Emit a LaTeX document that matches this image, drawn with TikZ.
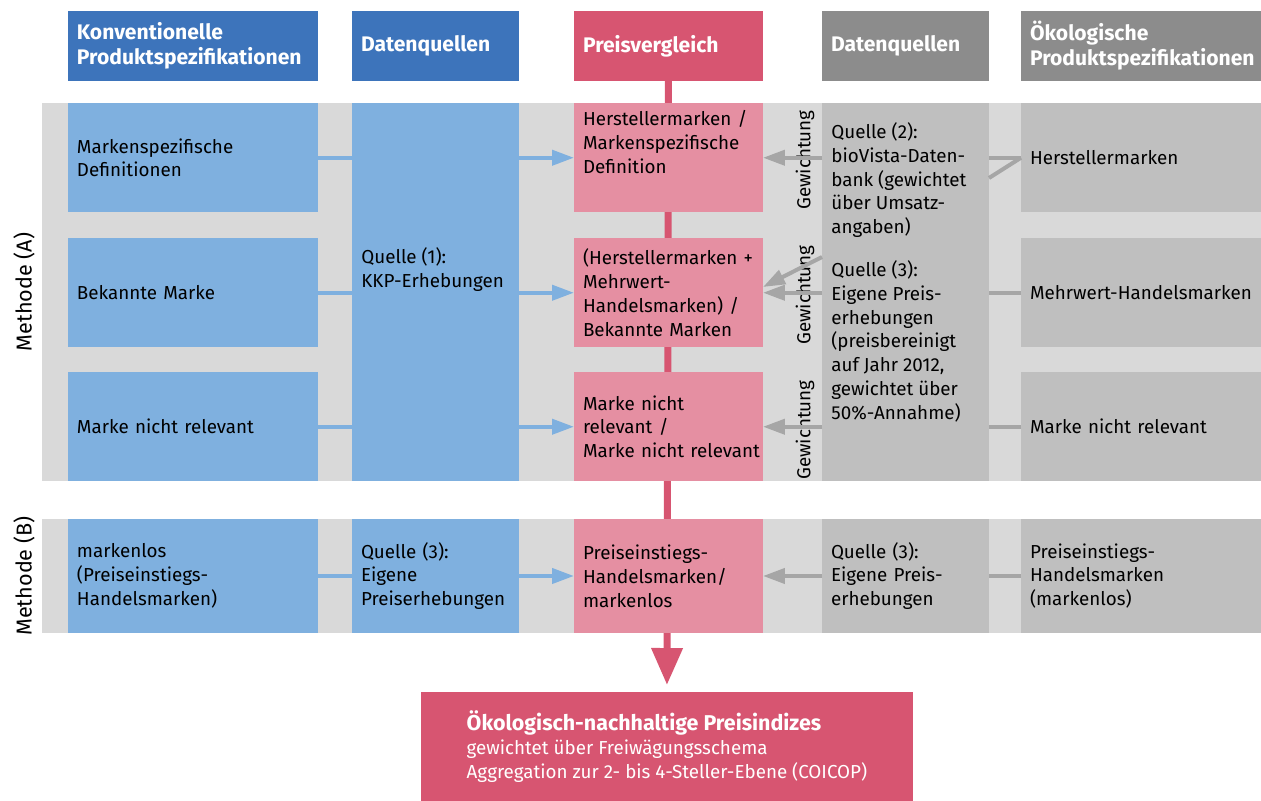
\documentclass[tikz,border=0pt]{standalone}
\usepackage{fontspec}
\setmainfont{Fira Sans}
\usetikzlibrary{arrows.meta}

\definecolor{hdrblue}{RGB}{61,116,187}
\definecolor{boxblue}{RGB}{127,176,223}
\definecolor{hdrpink}{RGB}{215,85,113}
\definecolor{boxpink}{RGB}{229,143,162}
\definecolor{hdrgrey}{RGB}{140,140,140}
\definecolor{boxgrey}{RGB}{191,191,191}
\definecolor{bandgrey}{RGB}{217,217,217}
\definecolor{linegrey}{RGB}{166,166,166}

\newcommand{\bodyfont}{\fontsize{10.7}{13.6}\selectfont}

\tikzset{
  colA/.style={minimum width=5cm, text width=4.64cm},
  colB/.style={minimum width=3.34cm, text width=2.98cm},
  colC/.style={minimum width=3.78cm, text width=3.42cm},
  colE/.style={minimum width=4.8cm, text width=4.44cm},
  hdr/.style={minimum height=1.4cm, text=white, font=\fontsize{12}{14.2}\selectfont\bfseries},
  rowA/.style={minimum height=2.19cm},
  rowB/.style={minimum height=2.28cm},
  tall/.style={minimum height=7.56cm},
  blueline/.style={draw=boxblue, line width=0.08cm},
  bluearrow/.style={blueline, -{Triangle[width=0.3cm,length=0.44cm]}},
  greyline/.style={draw=linegrey, line width=0.08cm},
  greyarrow/.style={greyline, -{Triangle[width=0.3cm,length=0.44cm]}},
  pinkflow/.style={draw=hdrpink, line width=0.14cm, -{Triangle[width=0.6cm,length=0.74cm]}, shorten >=0.14cm}
}

\begin{document}
\begin{tikzpicture}[x=0.02cm, y=-0.02cm, font=\bodyfont]
  \useasboundingbox (0,0) rectangle (1261,801);
  \fill[bandgrey] (42,103) rectangle (1261,481);
  \fill[bandgrey] (42,519) rectangle (1261,633);

  \begin{scope}[every node/.style={anchor=north west, inner xsep=0.18cm, inner ysep=0, outer sep=0, align=left, font=\bodyfont}]
    \node[hdr, colA, fill=hdrblue] (hKonv) at (68,11) {Konventionelle\\\mbox{Produktspezifikationen}};
    \node[hdr, colB, fill=hdrblue] (hDatL) at (352,11) {Datenquellen};
    \node[hdr, colC, fill=hdrpink] (hPreis) at (574,11) {Preisvergleich};
    \node[hdr, colB, fill=hdrgrey] (hDatR) at (822,11) {Datenquellen};
    \node[hdr, colE, fill=hdrgrey] (hOeko) at (1021,11) {Ökologische\\\mbox{Produktspezifikationen}};
    \node[minimum width=9.84cm, minimum height=2.18cm, align=left, fill=hdrpink, text=white] (res) at (421,692)
      {{\fontsize{12.2}{14.5}\selectfont\bfseries Ökologisch-nachhaltige Preisindizes}\\gewichtet über Freiwägungsschema\\Aggregation zur 2- bis 4-Steller-Ebene (COICOP)};
  \end{scope}

  \draw[pinkflow] (hPreis.south) -- (res.north);

  \begin{scope}[every node/.style={anchor=north west, inner xsep=0.18cm, inner ysep=0, outer sep=0, align=left, font=\bodyfont}]
    \node[colA, rowA, fill=boxblue] (l1) at (68,103) {Markenspezifische\\Definitionen};
    \node[colA, rowA, fill=boxblue] (l2) at (68,238) {Bekannte Marke};
    \node[colA, rowA, fill=boxblue] (l3) at (68,372) {Marke nicht relevant};
    \node[colA, rowB, fill=boxblue] (l4) at (68,519) {markenlos\\(Preiseinstiegs-\\Handelsmarken)};
    \node[colB, tall, fill=boxblue] (q1) at (352,103) {};
    \node[colB, rowB, fill=boxblue] (q4) at (352,519) {Quelle (3):\\Eigene\\Preiserhebungen};
    \node[colC, rowA, fill=boxpink] (p1) at (574,103) {Herstellermarken /\\Markenspezifische\\Definition\\\strut};
    \node[colC, rowA, fill=boxpink] (p2) at (574,238) {(Herstellermarken +\\Mehrwert-\\Handelsmarken) /\\Bekannte Marken};
    \node[colC, rowA, fill=boxpink] (p3) at (574,372) {Marke nicht\\relevant /\\\mbox{Marke nicht relevant}};
    \node[colC, rowB, fill=boxpink] (p4) at (574,519) {Preiseinstiegs-\\Handelsmarken/\\markenlos};
    \node[colB, tall, fill=boxgrey] (q23) at (822,103) {};
    \node[colB, rowB, fill=boxgrey] (q5) at (822,519) {Quelle (3):\\Eigene Preis-\\erhebungen};
    \node[colE, rowA, fill=boxgrey] (r1) at (1021,103) {Herstellermarken};
    \node[colE, rowA, fill=boxgrey] (r2) at (1021,238) {Mehrwert-Handelsmarken};
    \node[colE, rowA, fill=boxgrey] (r3) at (1021,372) {Marke nicht relevant};
    \node[colE, rowB, fill=boxgrey] (r4) at (1021,519) {Preiseinstiegs-\\Handelsmarken\\(markenlos)};
  \end{scope}

  \begin{scope}[every node/.style={inner sep=0, align=left, font=\bodyfont}]
    \node[anchor=west] (q1txt) at (361,270) {Quelle (1):\\KKP-Erhebungen};
    \node[anchor=north west] (q2txt) at (831,122) {Quelle (2):\\bioVista-Daten-\\bank (gewichtet\\über Umsatz-\\angaben)};
    \node[anchor=north west] (q3txt) at (831,260) {Quelle (3):\\Eigene Preis-\\erhebungen\\(preisbereinigt\\auf Jahr 2012,\\gewichtet über\\50\%-Annahme)};
    \node[rotate=90] (g1) at (805,160) {Gewichtung};
    \node[rotate=90] (g2) at (805,295) {Gewichtung};
    \node[rotate=90] (g3) at (805,430) {Gewichtung};
    \node[rotate=90, font=\fontsize{12.3}{14}\selectfont] (mA) at (24,292) {Methode (A)};
    \node[rotate=90, font=\fontsize{12.3}{14}\selectfont] (mB) at (24,576) {Methode (B)};
  \end{scope}

  \coordinate (d1) at (822,257);
  \coordinate (d2) at (763,287);
  \coordinate (d3) at (989,178);

  \begin{scope}[every edge/.style={blueline}]
    \path (l1.east) edge (l1.east -| q1.west);
    \path (l2.east) edge (l2.east -| q1.west);
    \path (l3.east) edge (l3.east -| q1.west);
    \path (l4.east) edge (q4.west);
  \end{scope}
  \begin{scope}[every edge/.style={bluearrow}]
    \path (p1.west -| q1.east) edge (p1.west);
    \path (p2.west -| q1.east) edge (p2.west);
    \path (p3.west -| q1.east) edge (p3.west);
    \path (q4.east) edge (p4.west);
  \end{scope}
  \begin{scope}[every edge/.style={greyarrow}]
    \path (p1.east -| q23.west) edge (p1.east);
    \path (d1) edge (d2);
    \path (p2.east -| q23.west) edge (p2.east);
    \path (p3.east -| q23.west) edge (p3.east);
    \path (q5.west) edge (p4.east);
  \end{scope}
  \begin{scope}[every edge/.style={greyline}]
    \path (r1.west) edge (r1.west -| q23.east);
    \path (r1.west) edge (d3);
    \path (r2.west) edge (r2.west -| q23.east);
    \path (r3.west) edge (r3.west -| q23.east);
    \path (r4.west) edge (q5.east);
  \end{scope}
\end{tikzpicture}
\end{document}
